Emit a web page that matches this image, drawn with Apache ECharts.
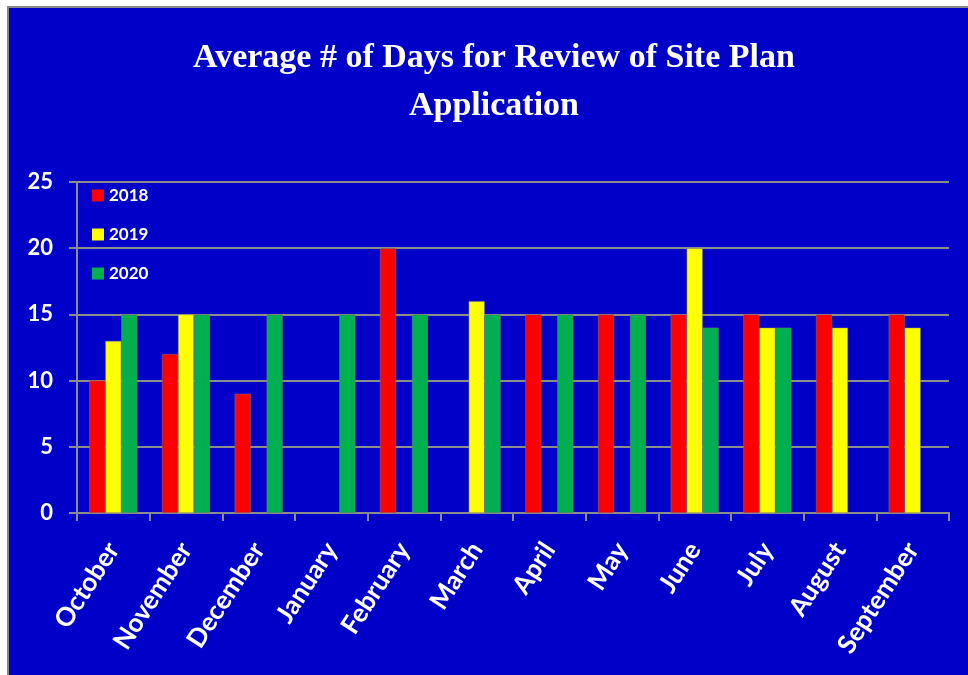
<!DOCTYPE html>
<html>
<head>
<meta charset="utf-8">
<script src="https://cdn.jsdelivr.net/npm/echarts@6/dist/echarts.min.js"></script>
<style>
	html, body { margin: 0; padding: 0; background: #fff; }
	#chart { width: 968px; height: 675px; }
</style>
</head>
<body>
<div id="chart"></div>
<script>
var months = ['October', 'November', 'December', 'January', 'February', 'March', 'April', 'May', 'June', 'July', 'August', 'September'];
var years = ['2018', '2019', '2020'];
// '-' = no bar for that month
var days2018 = [10, 12, 9, '-', 20, '-', 15, 15, 15, 15, 15, 15];
var days2019 = [13, 15, '-', '-', '-', 16, '-', '-', 20, 14, 14, 14];
var days2020 = [15, 15, 15, 15, 15, 15, 15, 15, 14, 14, '-', '-'];
var yTicks = [0, 5, 10, 15, 20, 25];
var colors = ['#ff0000', '#ffff00', '#00b050'];

var dom = document.getElementById('chart');
var myChart = echarts.init(dom);

var gridLine = '#8c8c8c';

function barSeries(name, data, color) {
	return {
		name: name,
		type: 'bar',
		data: data,
		barGap: '0%',
		barCategoryGap: '34%',
		itemStyle: {
			color: color,
			borderColor: '#7a7a7a',
			borderWidth: 0.5
		}
	};
}

var option = {
	backgroundColor: '#ffffff',
	animation: false,
	graphic: [
		{
			type: 'rect',
			z: -10,
			silent: true,
			shape: { x: 8, y: 7, width: 980, height: 690 },
			style: { fill: '#0000c8', stroke: '#888888', lineWidth: 2 }
		}
	],
	title: {
		text: 'Average # of Days for Review of Site Plan\nApplication',
		left: 494,
		top: 34,
		padding: 0,
		textAlign: 'center',
		textStyle: {
			color: '#ffffff',
			fontFamily: 'Liberation Serif',
			fontWeight: 'bold',
			fontSize: 34,
			lineHeight: 48
		}
	},
	legend: {
		data: years,
		orient: 'vertical',
		left: 87,
		top: 182,
		itemWidth: 12,
		itemHeight: 12,
		itemGap: 22,
		icon: 'rect',
		itemStyle: { borderWidth: 0 },
		textStyle: {
			color: '#ffffff',
			fontFamily: 'Lato',
			fontWeight: 'bold',
			fontSize: 17
		}
	},
	grid: {
		left: 77,
		right: 19,
		top: 182,
		bottom: 162,
		containLabel: false
	},
	xAxis: {
		type: 'category',
		data: months,
		axisLine: { lineStyle: { color: gridLine, width: 2 } },
		axisTick: { show: true, length: 8, lineStyle: { color: gridLine, width: 2 } },
		axisLabel: {
			interval: 0,
			rotate: 57,
			margin: 32,
			color: '#ffffff',
			fontFamily: 'Lato',
			fontWeight: 'bold',
			fontSize: 26
		}
	},
	yAxis: {
		type: 'value',
		min: yTicks[0],
		max: yTicks[yTicks.length - 1],
		interval: yTicks[1] - yTicks[0],
		axisLine: { show: true, lineStyle: { color: gridLine, width: 2 } },
		axisTick: { show: true, length: 8, lineStyle: { color: gridLine, width: 2 } },
		splitLine: { lineStyle: { color: gridLine, width: 2 } },
		axisLabel: {
			margin: 24,
			color: '#ffffff',
			fontFamily: 'Lato',
			fontWeight: 'bold',
			fontSize: 22
		}
	},
	series: [
		barSeries(years[0], days2018, colors[0]),
		barSeries(years[1], days2019, colors[1]),
		barSeries(years[2], days2020, colors[2])
	]
};

myChart.setOption(option);
</script>
</body>
</html>
